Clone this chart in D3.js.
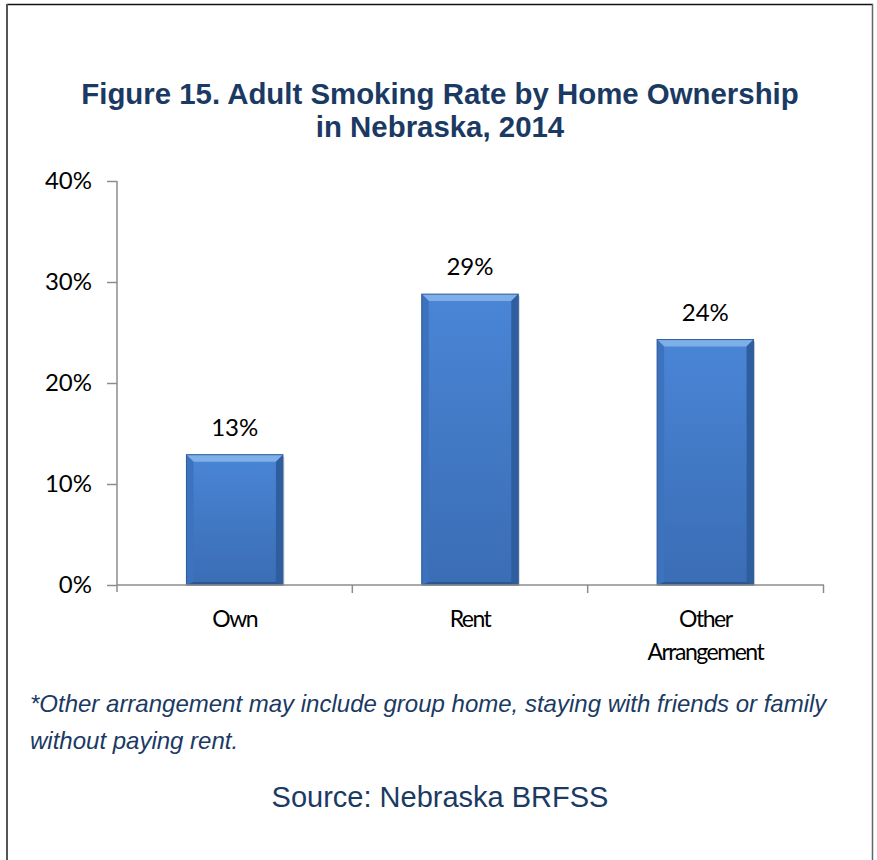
<!DOCTYPE html>
<html><head><meta charset="utf-8">
<script src="https://cdn.jsdelivr.net/npm/d3@7"></script>
<style>html,body{margin:0;padding:0;background:#fff;}svg{display:block;}</style>
</head><body>
<script>
const categories = ["Own", "Rent", "Other Arrangement"];
const values = [12.9, 28.8, 24.3];
const valueLabels = ["13%", "29%", "24%"];
const yTicks = [0, 10, 20, 30, 40];
const yTickLabels = ["0%", "10%", "20%", "30%", "40%"];
const titleLines = ["Figure 15. Adult Smoking Rate by Home Ownership", "in Nebraska, 2014"];
const noteLines = ["*Other arrangement may include group home, staying with friends or family", "without paying rent."];
const sourceText = "Source: Nebraska BRFSS";

const W = 877, H = 860;
const svg = d3.select("body").append("svg").attr("width", W).attr("height", H);
const navy = "#1B3A63";

// frame
svg.append("line").attr("x1", 7).attr("x2", 873).attr("y1", 4.5).attr("y2", 4.5).attr("stroke", "#111").attr("stroke-width", 1.5);
svg.append("line").attr("x1", 7).attr("x2", 7).attr("y1", 4).attr("y2", H).attr("stroke", "#555").attr("stroke-width", 2);
svg.append("line").attr("x1", 872.5).attr("x2", 872.5).attr("y1", 4).attr("y2", H).attr("stroke", "#666").attr("stroke-width", 1.5);

// title
svg.append("text").attr("x", 440).attr("text-anchor", "middle")
  .attr("font-family", "Liberation Sans, Arial, sans-serif").attr("font-weight", "bold")
  .attr("font-size", 29.4).attr("fill", navy)
  .selectAll("tspan").data(titleLines).join("tspan")
  .attr("x", 440).attr("y", (d, i) => 104 + i * 33).text(d => d);

const x = d3.scaleBand().domain(categories).range([117, 823]).paddingInner(0.59).paddingOuter(0.295);
const y = d3.scaleLinear().domain([0, 40]).range([585, 181]);

const defs = svg.append("defs");
const g1 = defs.append("linearGradient").attr("id", "barGrad").attr("x1", 0).attr("x2", 0).attr("y1", 0).attr("y2", 1);
g1.append("stop").attr("offset", "0%").attr("stop-color", "#4A85D6");
g1.append("stop").attr("offset", "100%").attr("stop-color", "#3A6DB4");

const labelFont = "Lato, Carlito, Calibri, sans-serif";

// axes
const axisColor = "#8C8C8C";
const yAxis = svg.append("g").attr("transform", "translate(117,0)")
  .call(d3.axisLeft(y).tickValues(yTicks).tickFormat((d, i) => yTickLabels[i]).tickSize(10).tickPadding(15));
yAxis.select(".domain").attr("stroke", axisColor).attr("stroke-width", 1.5);
yAxis.selectAll(".tick line").attr("stroke", axisColor).attr("stroke-width", 1.5);
yAxis.selectAll(".tick text").attr("font-family", labelFont).attr("font-size", 24).attr("fill", "#000");
yAxis.select(".domain").attr("d", "M0,181V592");

// bars
const bw = x.bandwidth(), bev = 7;
const bars = svg.append("g").selectAll("g").data(categories).join("g");
bars.each(function(c, i) {
  const gg = d3.select(this);
  const x0 = x(c), x1 = x(c) + bw, yt = y(values[i]), yb = y(0);
  gg.append("rect").attr("x", x0 + 1.5).attr("y", yt + 2).attr("width", bw).attr("height", yb - yt - 1).attr("fill", "#000").attr("opacity", 0.18);
  gg.append("rect").attr("x", x0).attr("y", yt).attr("width", bw).attr("height", yb - yt).attr("fill", "url(#barGrad)");
  gg.append("polygon").attr("points", [[x0, yt], [x1, yt], [x1 - bev, yt + bev], [x0 + bev, yt + bev]].join(" ")).attr("fill", "#7FAFE8");
  gg.append("polygon").attr("points", [[x0, yt], [x0 + bev, yt + bev], [x0 + bev, yb - 3], [x0, yb]].join(" ")).attr("fill", "#3D72BE");
  gg.append("polygon").attr("points", [[x1, yt], [x1 - bev, yt + bev], [x1 - bev, yb - 3], [x1, yb]].join(" ")).attr("fill", "#2F5E9F");
  gg.append("polygon").attr("points", [[x0, yb], [x0 + bev, yb - 3], [x1 - bev, yb - 3], [x1, yb]].join(" ")).attr("fill", "#2C5690");
  gg.append("rect").attr("x", x0).attr("y", yt).attr("width", bw).attr("height", yb - yt).attr("fill", "none").attr("stroke", "#2F5C99").attr("stroke-width", 1);
  gg.append("text").attr("x", x0 + bw / 2).attr("y", yt - 19).attr("text-anchor", "middle")
    .attr("font-family", labelFont).attr("font-size", 24).attr("fill", "#000").text(valueLabels[i]);
});

// x axis
const xAxisG = svg.append("g").attr("transform", "translate(0,585)");
xAxisG.append("line").attr("x1", 117).attr("x2", 824).attr("stroke", axisColor).attr("stroke-width", 1.5);
const boundaries = categories.map(c => x(c) - x.step() * x.paddingInner() / 2).slice(1).concat([823.5]);
xAxisG.selectAll("line.tk").data(boundaries).join("line").attr("class", "tk")
  .attr("x1", d => d).attr("x2", d => d).attr("y1", 0).attr("y2", 8).attr("stroke", axisColor).attr("stroke-width", 1.5);
xAxisG.selectAll("text").data(categories).join("text")
  .attr("text-anchor", "middle").attr("font-family", labelFont).attr("font-size", 23)
  .attr("letter-spacing", -1.5).attr("fill", "#000")
  .each(function(c) {
    const words = c === "Other Arrangement" ? ["Other", "Arrangement"] : [c];
    d3.select(this).selectAll("tspan").data(words).join("tspan")
      .attr("x", x(c) + bw / 2).attr("y", (d, i) => 42 + i * 33).text(d => d);
  });

// note
svg.append("text").attr("font-family", "Liberation Sans, Arial, sans-serif").attr("font-style", "italic")
  .attr("font-size", 24).attr("fill", navy)
  .selectAll("tspan").data(noteLines).join("tspan").attr("x", 30).attr("y", (d, i) => 712 + i * 37).text(d => d);

svg.append("text").attr("x", 440).attr("y", 807).attr("text-anchor", "middle")
  .attr("font-family", "Liberation Sans, Arial, sans-serif").attr("font-size", 29).attr("fill", navy).text(sourceText);
</script>
</body></html>
